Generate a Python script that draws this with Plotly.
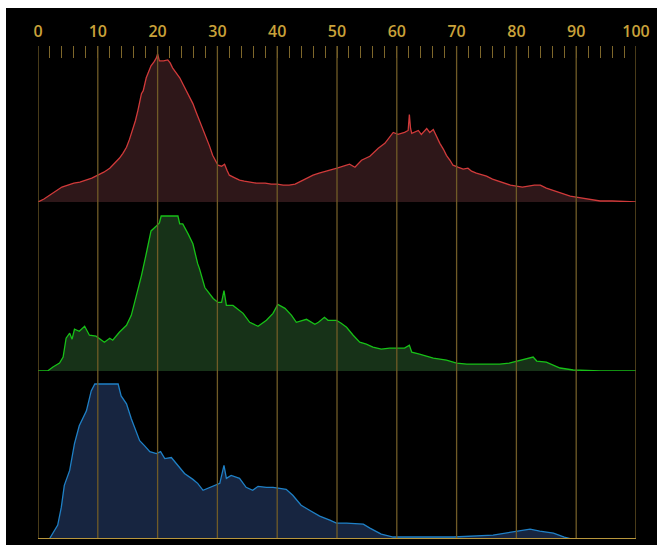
import plotly.graph_objects as go

# Per-channel histograms: level (0-100) and relative count (clipped at 156)
red_x = [0, 1, 2, 3, 4, 5, 6, 7, 8, 9, 10, 11, 12, 13, 13.6, 14.2, 14.8, 15.3, 15.8, 16.3,
         16.7, 17.0, 17.3, 17.6, 18.1, 18.5, 18.9, 19.4, 19.8, 20.0, 20.3, 21.0, 21.7, 22.1,
         22.5, 23.1, 23.7, 24.2, 24.8, 25.3, 25.9, 26.4, 27.0, 27.6, 28.2, 28.7, 29.2, 29.6,
         30.1, 30.7, 31.2, 31.6, 32.0, 33.0, 33.7, 34.5, 35.4, 36.5, 38, 39, 40, 41, 42, 43,
         44, 45, 46, 47, 48, 48.8, 50, 51, 52.1, 53, 54.1, 55.5, 56.9, 58, 58.7, 59.4, 60.2,
         61.3, 61.9, 62.1, 62.3, 62.5, 63.6, 64.1, 65.0, 65.5, 66.1, 66.6, 67.2, 67.8, 68.3,
         68.9, 69.4, 70.2, 71.1, 71.9, 72.5, 73.3, 74, 75, 76, 77, 78, 79, 80, 81, 82, 83, 84,
         85, 86, 87, 88, 89, 90, 91, 92, 93, 94, 95, 96, 100]
red_y = [0, 3, 7, 11, 15, 17, 19, 20, 22, 24, 27, 30, 34, 40, 44, 49, 55, 63, 72, 82,
         92, 100, 109, 112, 125, 131, 137, 141, 145, 149, 142, 142, 143, 140,
         135, 130, 125, 119, 112, 106, 99, 91, 82, 73, 65, 56, 47, 42,
         37, 36, 38, 32, 27, 24, 22, 21, 20, 19, 19, 18, 18, 17, 17, 18,
         21, 24, 27, 29, 31, 32, 34, 36, 38, 35, 42, 46, 54, 59, 64, 70, 68,
         70, 72, 88, 74, 69, 72, 68, 74, 70, 73, 66, 59, 53, 47,
         42, 37, 35, 33, 34, 31, 29, 28, 26, 23, 21, 19, 17, 16, 15, 16, 17, 17,
         14, 12, 10, 8, 6, 5, 4, 3, 2, 1, 1, 1, 0]

green_x = [0, 1.6, 2.5, 3.6, 4.2, 4.7, 5.3, 5.7, 6.1, 6.9, 7.8, 8.6, 9.7, 11.1, 12.0, 12.5,
           13.6, 14.8, 15.6, 16.4, 17.3, 18.1, 18.9, 19.8, 20.3, 20.6, 23.4, 23.7, 24.2,
           25.1, 25.9, 26.7, 27.0, 27.9, 29.0, 29.3, 30.1, 30.7, 31.1, 31.5, 32.6, 34.3,
           35.4, 36.8, 38.2, 39.3, 40.1, 41.3, 42.4, 43.2, 44.9, 46.3, 46.9, 47.9, 48.5,
           49.9, 50.7, 51.6, 52.7, 53.8, 54.9, 56.0, 57.4, 58.8, 59.9, 61.3, 62.1, 62.5,
           63.8, 66.1, 68.3, 70.0, 71.7, 77.2, 78.8, 81.7, 82.8, 83.4, 85.0, 87.3, 89.5,
           94, 100]
green_y = [0, 0, 4, 8, 14, 33, 38, 32, 42, 40, 45, 36, 35, 29, 33, 31,
           39, 46, 56, 74, 96, 118, 141, 146, 149, 156, 156, 148, 148,
           138, 128, 108, 103, 84, 76, 73, 69, 69, 81, 66, 66, 58,
           49, 45, 51, 58, 67, 63, 56, 49, 52, 47, 49, 54, 51,
           51, 48, 44, 36, 29, 27, 24, 22, 23, 23, 23, 26, 19,
           17, 13, 11, 8, 7, 7, 8, 12, 14, 10, 9, 3, 1,
           0, 0]

blue_x = [0, 1.9, 3.3, 3.9, 4.4, 5.3, 6.1, 6.9, 8.1, 8.9, 9.5, 13.4, 13.9, 14.8, 15.6,
          16.4, 17.0, 17.8, 18.7, 19.8, 20.5, 21.2, 22.3, 23.4, 24.5, 25.9, 26.7, 27.6,
          28.7, 30.4, 31.1, 31.5, 32.3, 33.7, 34.8, 35.9, 36.8, 38.2, 39.3, 41.5, 42.6,
          44.0, 45.4, 47.1, 48.8, 49.9, 51.6, 54.4, 55.5, 57.4, 59.4, 60.5, 69.5, 76.1,
          78.4, 80.0, 82.3, 83.9, 86.2, 88.0, 89.3, 100]
blue_y = [0, 0, 14, 32, 54, 69, 96, 114, 129, 149, 156, 156, 144, 136, 121,
          109, 99, 94, 88, 86, 88, 81, 82, 74, 66, 60, 56, 49,
          52, 56, 74, 61, 64, 61, 52, 49, 53, 52, 52, 50, 44,
          34, 29, 23, 19, 16, 16, 15, 11, 5, 2, 2, 2, 4,
          6, 8, 10, 8, 6, 2, 0, 0]

level_ticks = list(range(0, 101, 10))

GOLD = "#c9a23a"
GRID = "#705b27"
MINOR = "#7e672b"

fig = go.Figure()

# helper trace so the full-height subplot carries the level axis
fig.add_trace(go.Scatter(x=[0, 100], y=[0, 1], mode="markers", marker=dict(opacity=0),
                         hoverinfo="skip", showlegend=False, xaxis="x", yaxis="y"))

channels = [
    (red_x, red_y, "y2", "#d03a3a", "#2e1719"),
    (green_x, green_y, "y3", "#17c017", "#173218"),
    (blue_x, blue_y, "y4", "#1f80c6", "#172540"),
]
for xs, ys, yax, lc, fc in channels:
    fig.add_trace(go.Scatter(x=xs, y=ys, mode="lines", fill="tozeroy", fillcolor=fc,
                             line=dict(color=lc, width=1.3), xaxis="x", yaxis=yax,
                             hoverinfo="skip", showlegend=False))

# dark backdrop behind the whole chart
shapes = [dict(type="rect", xref="paper", yref="paper", x0=-0.0535, x1=1.2,
               y0=-0.1, y1=1.0771, fillcolor="black", line=dict(width=0), layer="below")]
# full-height level grid lines, drawn over the filled areas
for v in level_ticks:
    shapes.append(dict(type="line", xref="x", yref="paper", x0=v, x1=v, y0=0, y1=1,
                       line=dict(color=GRID, width=1.3), layer="above"))
# base line under the lowest channel
shapes.append(dict(type="line", xref="x", yref="y4", x0=0, x1=100, y0=0, y1=0,
                   line=dict(color="#b8963c", width=2), layer="above"))

hidden = dict(visible=False, fixedrange=True)
fig.update_layout(
    width=657, height=545,
    margin=dict(l=38, r=21, t=46, b=6),
    paper_bgcolor="white", plot_bgcolor="rgba(0,0,0,0)",
    xaxis=dict(range=[0, 100], side="top", anchor="y", tickmode="linear", tick0=0, dtick=10,
               ticks="inside", ticklen=12, tickcolor=GRID, tickwidth=1,
               showgrid=False,
               minor=dict(tickmode="linear", tick0=0, dtick=2, ticks="inside", ticklen=12,
                          tickcolor=MINOR, tickwidth=1.2, showgrid=False),
               showline=False, zeroline=False, ticklabelstandoff=5,
               tickfont=dict(family="Open Sans", size=16, color=GOLD, weight=600),
               fixedrange=True),
    yaxis=dict(domain=[0, 1], range=[0, 1], anchor="x", **hidden),
    yaxis2=dict(domain=[0.6836, 1.0], range=[0, 157], anchor="x", **hidden),
    yaxis3=dict(domain=[0.3408, 0.6572], range=[0, 157], anchor="x", **hidden),
    yaxis4=dict(domain=[0.0, 0.3164], range=[0, 157], anchor="x", **hidden),
    shapes=shapes,
)

fig.write_html("out.html")
